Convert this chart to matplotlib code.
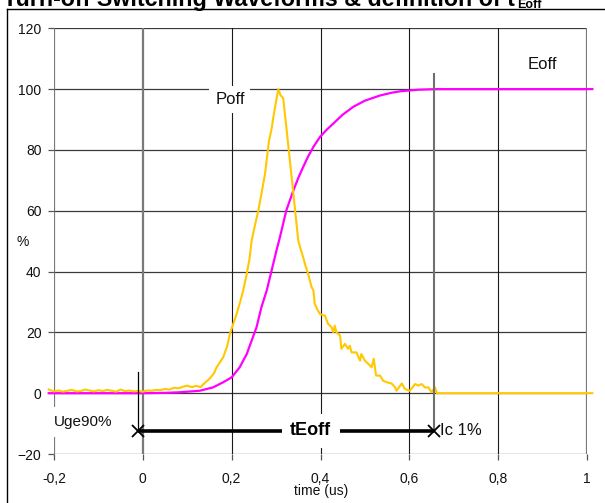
import matplotlib
matplotlib.use("Agg")
import matplotlib.pyplot as plt
from matplotlib.lines import Line2D

plt.rcParams['font.family'] = ['Liberation Sans', 'DejaVu Sans']

# Turn-off loss power (Poff) in % of peak, versus time in us
poff_t = [-0.212, -0.20, -0.19, -0.18, -0.17, -0.16, -0.15, -0.14, -0.13, -0.12,
          -0.11, -0.10, -0.09, -0.08, -0.07, -0.06, -0.05, -0.04, -0.03, -0.02,
          -0.01, 0.00, 0.01, 0.02, 0.03, 0.04, 0.05, 0.06, 0.07, 0.08,
          0.09, 0.10, 0.11, 0.12, 0.13, 0.14, 0.15, 0.16, 0.166, 0.175,
          0.181, 0.19, 0.196, 0.204, 0.211, 0.22, 0.226, 0.234, 0.24, 0.245,
          0.252, 0.26, 0.267, 0.275, 0.284, 0.29, 0.294, 0.30, 0.305, 0.31,
          0.316, 0.323, 0.331, 0.339, 0.345, 0.35, 0.356, 0.361, 0.366, 0.372,
          0.376, 0.38, 0.384, 0.387, 0.393, 0.399, 0.41, 0.417, 0.425, 0.429,
          0.432, 0.436, 0.444, 0.447, 0.455, 0.462, 0.466, 0.47, 0.481, 0.489,
          0.492, 0.50, 0.508, 0.515, 0.52, 0.525, 0.534, 0.541, 0.549, 0.56,
          0.568, 0.571, 0.583, 0.59, 0.601, 0.613, 0.62, 0.628, 0.635, 0.643,
          0.65, 0.658, 0.662, 1.012]
poff_v = [1.2, 0.6, 0.9, 0.5, 0.8, 1.1, 0.6, 0.7, 1.2, 0.9,
          0.6, 1.0, 0.7, 1.1, 0.8, 0.5, 1.2, 0.7, 0.9, 0.6,
          0.8, 0.5, 0.9, 0.8, 1.1, 1.0, 1.4, 1.2, 1.8, 1.6,
          2.1, 2.5, 2.0, 2.4, 2.0, 3.5, 4.7, 6.5, 8.5, 10.5,
          11.8, 15.5, 19.5, 23.0, 26.0, 30.5, 33.8, 39.3, 44.0, 50.2,
          55.0, 60.0, 65.6, 72.0, 83.0, 87.0, 90.9, 96.0, 100.0, 98.0,
          97.0, 87.6, 76.6, 65.6, 57.0, 50.2, 47.0, 44.7, 42.0, 39.3,
          37.0, 34.9, 33.8, 29.4, 27.5, 26.0, 25.5, 22.8, 21.7, 20.0,
          22.2, 20.0, 19.0, 14.6, 16.2, 14.6, 15.6, 13.4, 13.4, 10.7,
          12.9, 10.7, 9.6, 8.5, 11.3, 5.8, 5.8, 4.1, 3.6, 3.2,
          1.9, 0.8, 3.2, 1.4, 0.8, 3.0, 2.5, 3.0, 1.9, 1.9,
          0.3, 1.9, 0.0, 0.0]

# Cumulative turn-off energy (Eoff) in % of final value
eoff_t = [-0.212, 0.00, 0.05, 0.083, 0.128, 0.158, 0.181, 0.20, 0.218, 0.234,
          0.245, 0.256, 0.267, 0.279, 0.29, 0.301, 0.309, 0.323, 0.339, 0.35,
          0.361, 0.372, 0.384, 0.399, 0.415, 0.429, 0.45, 0.474, 0.50, 0.534,
          0.56, 0.58, 0.62, 0.66, 1.012]
eoff_v = [0.0, 0.0, 0.1, 0.3, 0.8, 1.9, 3.6, 5.2, 8.5, 12.9,
          17.3, 21.7, 28.3, 33.8, 40.4, 47.0, 51.5, 60.1, 66.7, 70.8,
          74.4, 77.8, 81.0, 84.3, 86.8, 88.7, 91.6, 94.2, 96.2, 97.9,
          98.8, 99.3, 99.8, 100.0, 100.0]

# Definition of tEoff: from Uge 90% to Ic 1%
t_start = -0.011
t_end = 0.655
arrow_level = -12.4

x_ticks = [-0.2, 0, 0.2, 0.4, 0.6, 0.8, 1]
x_ticklabels = ['-0,2', '0', '0,2', '0,4', '0,6', '0,8', '1']
y_ticks = [-20, 0, 20, 40, 60, 80, 100, 120]

W, H = 605, 503
fig = plt.figure(figsize=(W / 100, H / 100), dpi=100)
ax = fig.add_axes([54 / W, (H - 454) / H, (587 - 54) / W, (454 - 28.3) / H])
ax.set_xlim(-0.2, 1.0)
ax.set_ylim(-20, 120)

for s in ax.spines.values():
    s.set_visible(False)

# grid
grid_dark = '#3a3a3a'
for y in y_ticks:
    ax.axhline(y, color=grid_dark, lw=0.9, zorder=1)
for x in x_ticks:
    if x in (-0.2, 0, 1):
        ax.axvline(x, color='#7a7a7a', lw=1.6, zorder=1)
    else:
        ax.axvline(x, color='#1a1a1a', lw=0.8, zorder=1)

ax.set_xticks(x_ticks)
ax.set_xticklabels(x_ticklabels)
ax.set_yticks(y_ticks)
ax.tick_params(axis='both', direction='out', length=4, width=0.9,
               color='#555555', labelsize=10, labelcolor='#111111')
ax.tick_params(axis='x', pad=9)
ax.tick_params(axis='y', pad=5)

# curves
ax.plot(poff_t, poff_v, color='#FFC800', lw=1.5, zorder=4, clip_on=False)
ax.plot(eoff_t, eoff_v, color='#FF00FF', lw=1.6, zorder=3, clip_on=False)

# marker lines for the start and end of tEoff
ax.plot([t_start, t_start], [6.9, arrow_level], color='black', lw=0.9, zorder=9)
ax.plot([t_end, t_end], [105, arrow_level], color='#707070', lw=1.5, zorder=5)

# tEoff arrow
ax.plot([t_start, t_end], [arrow_level, arrow_level], color='black', lw=2.6,
        zorder=6, solid_capstyle='butt')
ax.plot([t_start, t_end], [arrow_level, arrow_level], linestyle='none',
        marker='x', markersize=9, mew=1.3, color='black', zorder=10)
ax.text(0.378, arrow_level, 'tEoff', fontsize=13, fontweight='bold',
        ha='center', va='center', zorder=8,
        bbox=dict(facecolor='white', edgecolor='none', pad=6))

# labels inside the plot
ax.text(0.196, 96.5, 'Poff', fontsize=12, ha='center', va='center', zorder=8,
        color='#111111',
        bbox=dict(facecolor='white', edgecolor='none', boxstyle='square,pad=0.35'))
ax.text(0.9, 108, 'Eoff', fontsize=12, ha='center', va='center', zorder=8,
        color='#111111')
ax.text(-0.134, -9.5, 'Uge90%', fontsize=11, ha='center', va='center', zorder=8,
        color='#111111',
        bbox=dict(facecolor='white', edgecolor='none', boxstyle='square,pad=0.5'))
ax.text(0.668, arrow_level, 'Ic 1%', fontsize=12, ha='left', va='center',
        zorder=8, color='#111111')

# axis titles
fig.text(23 / W, 1 - 242 / H, '%', fontsize=10, ha='center', va='center',
         color='#111111')
fig.text(321 / W, 1 - 491 / H, 'time (us)', fontsize=10, ha='center',
         va='center', color='#111111')

# chart title, partly above the top edge
title = fig.text(3 / W, 1 - 6 / H, 'Turn-off Switching Waveforms & definition of t',
                 fontsize=14, fontweight='bold', ha='left', va='baseline')
fig.canvas.draw()
bb = title.get_window_extent()
title.set_fontsize(14 * 515 / bb.width)
fig.canvas.draw()
bb = title.get_window_extent()
fig.text((bb.x1 + 2) / W, 1 - 7.5 / H, 'Eoff', fontsize=9, fontweight='bold',
         ha='left', va='baseline')

# outer frame
fig.add_artist(Line2D([7 / W, 7 / W], [0, 1 - 9 / H], color='black', lw=1.0,
                      transform=fig.transFigure))
fig.add_artist(Line2D([7 / W, 1], [1 - 9 / H, 1 - 9 / H], color='black', lw=1.0,
                      transform=fig.transFigure))

fig.savefig('out.png', dpi=100)
